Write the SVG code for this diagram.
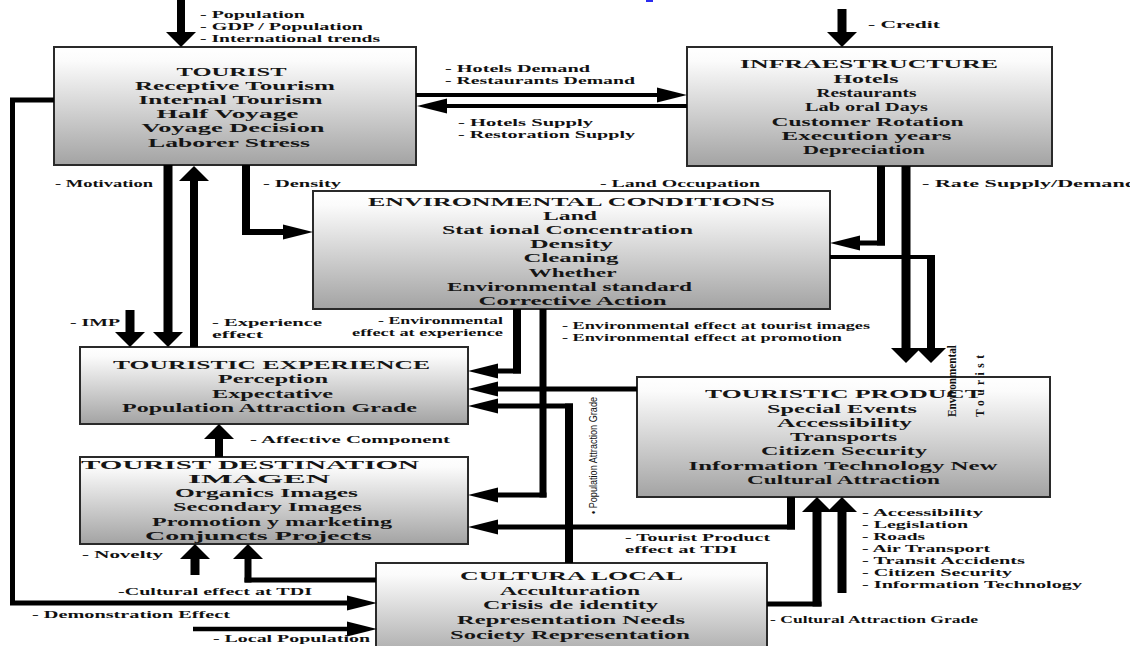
<svg xmlns="http://www.w3.org/2000/svg" width="1130" height="646" viewBox="0 0 1130 646">
  <defs>
    <linearGradient id="shade" x1="0" y1="0" x2="0" y2="1">
      <stop offset="0" stop-color="#ffffff"/>
      <stop offset="0.12" stop-color="#fbfbfb"/>
      <stop offset="1" stop-color="#a3a3a3"/>
    </linearGradient>
    <!-- vertical arrows: short and wide head -->
    <marker id="av" markerUnits="userSpaceOnUse" markerWidth="15" markerHeight="30" viewBox="0 -15 15 30" refX="0" refY="0" orient="auto" overflow="visible">
      <path d="M0,-15 L15,0 L0,15 Z" fill="#000"/>
    </marker>
    <!-- horizontal arrows: long and narrow head -->
    <marker id="ah" markerUnits="userSpaceOnUse" markerWidth="30" markerHeight="15" viewBox="0 -7.5 30 15" refX="0" refY="0" orient="auto" overflow="visible">
      <path d="M0,-7.5 L30,0 L0,7.5 Z" fill="#000"/>
    </marker>
    <style>
      .box { fill: url(#shade); stroke: #2a2a2a; stroke-width: 2; }
      .nt { font-family: "Liberation Serif", "Times New Roman", serif; font-size: 13.5px; font-weight: bold; fill: #151515; text-anchor: middle; }
      .lb { font-family: "Liberation Serif", "Times New Roman", serif; font-size: 10px; font-weight: bold; fill: #111; }
      .rot { font-family: "Liberation Sans", Arial, sans-serif; font-size: 11px; fill: #111; }
      .rs { font-family: "Liberation Serif", "Times New Roman", serif; font-size: 11.5px; font-weight: bold; fill: #111; }
      .w { fill: none; stroke: #000; stroke-linecap: butt; stroke-linejoin: miter; }
    </style>
  </defs>

  <rect width="1130" height="646" fill="#ffffff"/>
  <rect x="646" y="0" width="7" height="2" fill="#2b2bf0"/>

  <!-- nodes -->
  <g id="tourist">
    <rect class="box" x="54" y="47" width="362" height="118"/>
    <text class="nt" x="231.5" y="76" textLength="110" lengthAdjust="spacingAndGlyphs">TOURIST</text>
    <text class="nt" x="235" y="90" textLength="200" lengthAdjust="spacingAndGlyphs">Receptive Tourism</text>
    <text class="nt" x="230.5" y="104" textLength="184" lengthAdjust="spacingAndGlyphs">Internal Tourism</text>
    <text class="nt" x="227.5" y="118" textLength="142" lengthAdjust="spacingAndGlyphs">Half Voyage</text>
    <text class="nt" x="233" y="132" textLength="183" lengthAdjust="spacingAndGlyphs">Voyage Decision</text>
    <text class="nt" x="229" y="147" textLength="162" lengthAdjust="spacingAndGlyphs">Laborer Stress</text>
  </g>

  <g id="infraestructure">
    <rect class="box" x="687" y="47" width="365" height="119"/>
    <text class="nt" x="869" y="68" textLength="258" lengthAdjust="spacingAndGlyphs">INFRAESTRUCTURE</text>
    <text class="nt" x="866" y="83" textLength="65" lengthAdjust="spacingAndGlyphs">Hotels</text>
    <text class="nt" x="866.5" y="97" textLength="100" lengthAdjust="spacingAndGlyphs">Restaurants</text>
    <text class="nt" x="866.5" y="111" textLength="123" lengthAdjust="spacingAndGlyphs">Lab oral Days</text>
    <text class="nt" x="867.5" y="126" textLength="192" lengthAdjust="spacingAndGlyphs">Customer Rotation</text>
    <text class="nt" x="866.5" y="140" textLength="170" lengthAdjust="spacingAndGlyphs">Execution years</text>
    <text class="nt" x="864" y="154" textLength="122" lengthAdjust="spacingAndGlyphs">Depreciation</text>
  </g>

  <g id="environmental-conditions">
    <rect class="box" x="313" y="191" width="517" height="118"/>
    <text class="nt" x="571.5" y="206" textLength="407" lengthAdjust="spacingAndGlyphs">ENVIRONMENTAL CONDITIONS</text>
    <text class="nt" x="570" y="220" textLength="54" lengthAdjust="spacingAndGlyphs">Land</text>
    <text class="nt" x="567.5" y="234" textLength="251" lengthAdjust="spacingAndGlyphs">Stat ional Concentration</text>
    <text class="nt" x="571.5" y="248" textLength="83" lengthAdjust="spacingAndGlyphs">Density</text>
    <text class="nt" x="571" y="262" textLength="95" lengthAdjust="spacingAndGlyphs">Cleaning</text>
    <text class="nt" x="572.5" y="277" textLength="88" lengthAdjust="spacingAndGlyphs">Whether</text>
    <text class="nt" x="569.5" y="291" textLength="245" lengthAdjust="spacingAndGlyphs">Environmental standard</text>
    <text class="nt" x="572.5" y="305" textLength="188" lengthAdjust="spacingAndGlyphs">Corrective Action</text>
  </g>

  <g id="touristic-experience">
    <rect class="box" x="80" y="347" width="388" height="77"/>
    <text class="nt" x="271.5" y="369" textLength="317" lengthAdjust="spacingAndGlyphs">TOURISTIC EXPERIENCE</text>
    <text class="nt" x="273" y="383" textLength="110" lengthAdjust="spacingAndGlyphs">Perception</text>
    <text class="nt" x="272.5" y="398" textLength="121" lengthAdjust="spacingAndGlyphs">Expectative</text>
    <text class="nt" x="269.5" y="412" textLength="295" lengthAdjust="spacingAndGlyphs">Population Attraction Grade</text>
  </g>

  <g id="tourist-destination-imagen">
    <rect class="box" x="80" y="457" width="388" height="87"/>
    <text class="nt" x="250" y="469" textLength="338" lengthAdjust="spacingAndGlyphs">TOURIST DESTINATION</text>
    <text class="nt" x="259" y="483" textLength="142" lengthAdjust="spacingAndGlyphs">IMAGEN</text>
    <text class="nt" x="266.5" y="497" textLength="183" lengthAdjust="spacingAndGlyphs">Organics Images</text>
    <text class="nt" x="267.5" y="511" textLength="189" lengthAdjust="spacingAndGlyphs">Secondary Images</text>
    <text class="nt" x="272" y="526" textLength="240" lengthAdjust="spacingAndGlyphs">Promotion y marketing</text>
    <text class="nt" x="258.5" y="540" textLength="227" lengthAdjust="spacingAndGlyphs">Conjuncts Projects</text>
  </g>

  <g id="touristic-product">
    <rect class="box" x="637" y="377" width="413" height="120"/>
    <text class="nt" x="843.5" y="398" textLength="277" lengthAdjust="spacingAndGlyphs">TOURISTIC PRODUCT</text>
    <text class="nt" x="842" y="413" textLength="150" lengthAdjust="spacingAndGlyphs">Special Events</text>
    <text class="nt" x="844.5" y="427" textLength="135" lengthAdjust="spacingAndGlyphs">Accessibility</text>
    <text class="nt" x="843.5" y="441" textLength="107" lengthAdjust="spacingAndGlyphs">Transports</text>
    <text class="nt" x="844" y="455" textLength="166" lengthAdjust="spacingAndGlyphs">Citizen Security</text>
    <text class="nt" x="843" y="470" textLength="309" lengthAdjust="spacingAndGlyphs">Information Technology New</text>
    <text class="nt" x="843.5" y="484" textLength="193" lengthAdjust="spacingAndGlyphs">Cultural Attraction</text>
  </g>

  <g id="cultura-local">
    <rect class="box" x="376" y="563" width="391" height="100"/>
    <text class="nt" x="571.5" y="580" textLength="223" lengthAdjust="spacingAndGlyphs">CULTURA LOCAL</text>
    <text class="nt" x="570" y="595" textLength="140" lengthAdjust="spacingAndGlyphs">Acculturation</text>
    <text class="nt" x="570.5" y="609" textLength="175" lengthAdjust="spacingAndGlyphs">Crisis de identity</text>
    <text class="nt" x="571" y="624" textLength="228" lengthAdjust="spacingAndGlyphs">Representation Needs</text>
    <text class="nt" x="570" y="639" textLength="240" lengthAdjust="spacingAndGlyphs">Society Representation</text>
  </g>

  <!-- connectors and their labels -->
  <g id="connectors">
    <!-- external drivers into TOURIST -->
    <path class="w" stroke-width="8" d="M181,0 V32" marker-end="url(#av)"/>
    <text class="lb" x="200" y="18" textLength="105" lengthAdjust="spacingAndGlyphs">- Population</text>
    <text class="lb" x="200" y="30" textLength="163" lengthAdjust="spacingAndGlyphs">- GDP / Population</text>
    <text class="lb" x="200" y="42" textLength="180" lengthAdjust="spacingAndGlyphs">- International trends</text>

    <!-- credit into INFRAESTRUCTURE -->
    <path class="w" stroke-width="9" d="M842,9 V32" marker-end="url(#av)"/>
    <text class="lb" x="868" y="28" textLength="72" lengthAdjust="spacingAndGlyphs">- Credit</text>

    <!-- demand / supply between TOURIST and INFRAESTRUCTURE -->
    <path class="w" stroke-width="4" d="M416,95 H657" marker-end="url(#ah)"/>
    <path class="w" stroke-width="4" d="M687,106 H447" marker-end="url(#ah)"/>
    <text class="lb" x="445" y="72" textLength="145" lengthAdjust="spacingAndGlyphs">- Hotels Demand</text>
    <text class="lb" x="445" y="84" textLength="190" lengthAdjust="spacingAndGlyphs">- Restaurants Demand</text>
    <text class="lb" x="458" y="126" textLength="135" lengthAdjust="spacingAndGlyphs">- Hotels Supply</text>
    <text class="lb" x="458" y="138" textLength="177" lengthAdjust="spacingAndGlyphs">- Restoration Supply</text>

    <!-- demonstration effect loop: TOURIST to CULTURA LOCAL -->
    <path class="w" stroke-width="5" d="M54,100 H12.5 V603 H347" marker-end="url(#ah)"/>
    <text class="lb" x="32" y="618" textLength="198" lengthAdjust="spacingAndGlyphs">- Demonstration Effect</text>

    <!-- local population into CULTURA LOCAL -->
    <path class="w" stroke-width="4.5" d="M193,629 H347" marker-end="url(#ah)"/>
    <text class="lb" x="213" y="642" textLength="157" lengthAdjust="spacingAndGlyphs">- Local Population</text>

    <!-- TOURIST <-> TOURISTIC EXPERIENCE -->
    <path class="w" stroke-width="9" d="M168,165 V332" marker-end="url(#av)"/>
    <text class="lb" x="55" y="187" textLength="98" lengthAdjust="spacingAndGlyphs">- Motivation</text>
    <path class="w" stroke-width="8" d="M194,347 V181" marker-end="url(#av)"/>
    <text class="lb" x="212" y="326" textLength="110" lengthAdjust="spacingAndGlyphs">- Experience</text>
    <text class="lb" x="212" y="338" textLength="51" lengthAdjust="spacingAndGlyphs">effect</text>

    <!-- IMP into TOURISTIC EXPERIENCE -->
    <path class="w" stroke-width="9" d="M130,310 V332" marker-end="url(#av)"/>
    <text class="lb" x="70" y="326" textLength="50" lengthAdjust="spacingAndGlyphs">- IMP</text>

    <!-- density: TOURIST to ENVIRONMENTAL CONDITIONS -->
    <path class="w" stroke-width="8" d="M246,165 V235"/>
    <path class="w" stroke-width="6" d="M242,232 H283" marker-end="url(#ah)"/>
    <text class="lb" x="263" y="187" textLength="78" lengthAdjust="spacingAndGlyphs">- Density</text>

    <!-- land occupation: INFRAESTRUCTURE to ENVIRONMENTAL CONDITIONS -->
    <path class="w" stroke-width="8" d="M881,166 V245.5"/>
    <path class="w" stroke-width="5" d="M885,243 H860" marker-end="url(#ah)"/>
    <text class="lb" x="600" y="187" textLength="160" lengthAdjust="spacingAndGlyphs">- Land Occupation</text>

    <!-- rate supply/demand: INFRAESTRUCTURE to TOURISTIC PRODUCT -->
    <path class="w" stroke-width="9" d="M906,166 V348" marker-end="url(#av)"/>
    <text class="lb" x="922" y="187" textLength="215" lengthAdjust="spacingAndGlyphs">- Rate Supply/Demand</text>

    <!-- environmental tourist: ENVIRONMENTAL CONDITIONS to TOURISTIC PRODUCT -->
    <path class="w" stroke-width="4" d="M830,257 H935"/>
    <path class="w" stroke-width="8" d="M931,255 V348" marker-end="url(#av)"/>
    <text class="rs" transform="translate(956 417) rotate(-90)" textLength="72" lengthAdjust="spacingAndGlyphs">Environmental</text>
    <text class="rs" transform="translate(984 417) rotate(-90)" textLength="62" lengthAdjust="spacing">Tourist</text>

    <!-- ENVIRONMENTAL CONDITIONS to TOURISTIC EXPERIENCE -->
    <path class="w" stroke-width="8" d="M517,309 V373.5"/>
    <path class="w" stroke-width="5" d="M521,371 H498" marker-end="url(#ah)"/>
    <text class="lb" x="378" y="324" textLength="125" lengthAdjust="spacingAndGlyphs">- Environmental</text>
    <text class="lb" x="352" y="336" textLength="151" lengthAdjust="spacingAndGlyphs">effect at experience</text>

    <!-- ENVIRONMENTAL CONDITIONS to TOURIST DESTINATION IMAGEN -->
    <path class="w" stroke-width="7" d="M543,309 V497.5"/>
    <path class="w" stroke-width="5" d="M546.5,495 H498" marker-end="url(#ah)"/>
    <text class="lb" x="562" y="329" textLength="308" lengthAdjust="spacingAndGlyphs">- Environmental effect at tourist images</text>
    <text class="lb" x="562" y="341" textLength="280" lengthAdjust="spacingAndGlyphs">- Environmental effect at promotion</text>

    <!-- TOURISTIC PRODUCT to TOURISTIC EXPERIENCE -->
    <path class="w" stroke-width="5" d="M637,389 H498" marker-end="url(#ah)"/>

    <!-- CULTURA LOCAL to TOURISTIC EXPERIENCE -->
    <path class="w" stroke-width="8" d="M569,563 V403.5"/>
    <path class="w" stroke-width="5" d="M573,406 H498" marker-end="url(#ah)"/>
    <text class="rot" transform="translate(597 514) rotate(-90)" textLength="117" lengthAdjust="spacingAndGlyphs">• Population Attraction Grade</text>

    <!-- TOURISTIC PRODUCT to TOURIST DESTINATION IMAGEN -->
    <path class="w" stroke-width="8" d="M791,497 V529.5"/>
    <path class="w" stroke-width="5" d="M795,527 H498" marker-end="url(#ah)"/>
    <text class="lb" x="625" y="541" textLength="145" lengthAdjust="spacingAndGlyphs">- Tourist Product</text>
    <text class="lb" x="625" y="553" textLength="112" lengthAdjust="spacingAndGlyphs">effect at TDI</text>

    <!-- CULTURA LOCAL to TOURISTIC PRODUCT -->
    <path class="w" stroke-width="5" d="M767,604 H821.5"/>
    <path class="w" stroke-width="9" d="M817,606.5 V512" marker-end="url(#av)"/>
    <text class="lb" x="770" y="623" textLength="208" lengthAdjust="spacingAndGlyphs">- Cultural Attraction Grade</text>

    <!-- external factors into TOURISTIC PRODUCT -->
    <path class="w" stroke-width="9" d="M842,593 V512" marker-end="url(#av)"/>
    <text class="lb" x="862" y="516" textLength="121" lengthAdjust="spacingAndGlyphs">- Accessibility</text>
    <text class="lb" x="862" y="528" textLength="106" lengthAdjust="spacingAndGlyphs">- Legislation</text>
    <text class="lb" x="862" y="540" textLength="63" lengthAdjust="spacingAndGlyphs">- Roads</text>
    <text class="lb" x="862" y="552" textLength="128" lengthAdjust="spacingAndGlyphs">- Air Transport</text>
    <text class="lb" x="862" y="564" textLength="163" lengthAdjust="spacingAndGlyphs">- Transit Accidents</text>
    <text class="lb" x="862" y="576" textLength="150" lengthAdjust="spacingAndGlyphs">- Citizen Security</text>
    <text class="lb" x="862" y="588" textLength="220" lengthAdjust="spacingAndGlyphs">- Information Technology</text>

    <!-- TOURIST DESTINATION IMAGEN to TOURISTIC EXPERIENCE -->
    <path class="w" stroke-width="8" d="M219,457 V439" marker-end="url(#av)"/>
    <text class="lb" x="250" y="443" textLength="200" lengthAdjust="spacingAndGlyphs">- Affective Component</text>

    <!-- novelty into TOURIST DESTINATION IMAGEN -->
    <path class="w" stroke-width="9" d="M195,575 V559" marker-end="url(#av)"/>
    <text class="lb" x="82" y="558" textLength="81" lengthAdjust="spacingAndGlyphs">- Novelty</text>

    <!-- CULTURA LOCAL to TOURIST DESTINATION IMAGEN -->
    <path class="w" stroke-width="5" d="M376,580 H244.5"/>
    <path class="w" stroke-width="7" d="M248,582.5 V559" marker-end="url(#av)"/>
    <text class="lb" x="118" y="595" textLength="194" lengthAdjust="spacingAndGlyphs">-Cultural effect at TDI</text>
  </g>
</svg>
